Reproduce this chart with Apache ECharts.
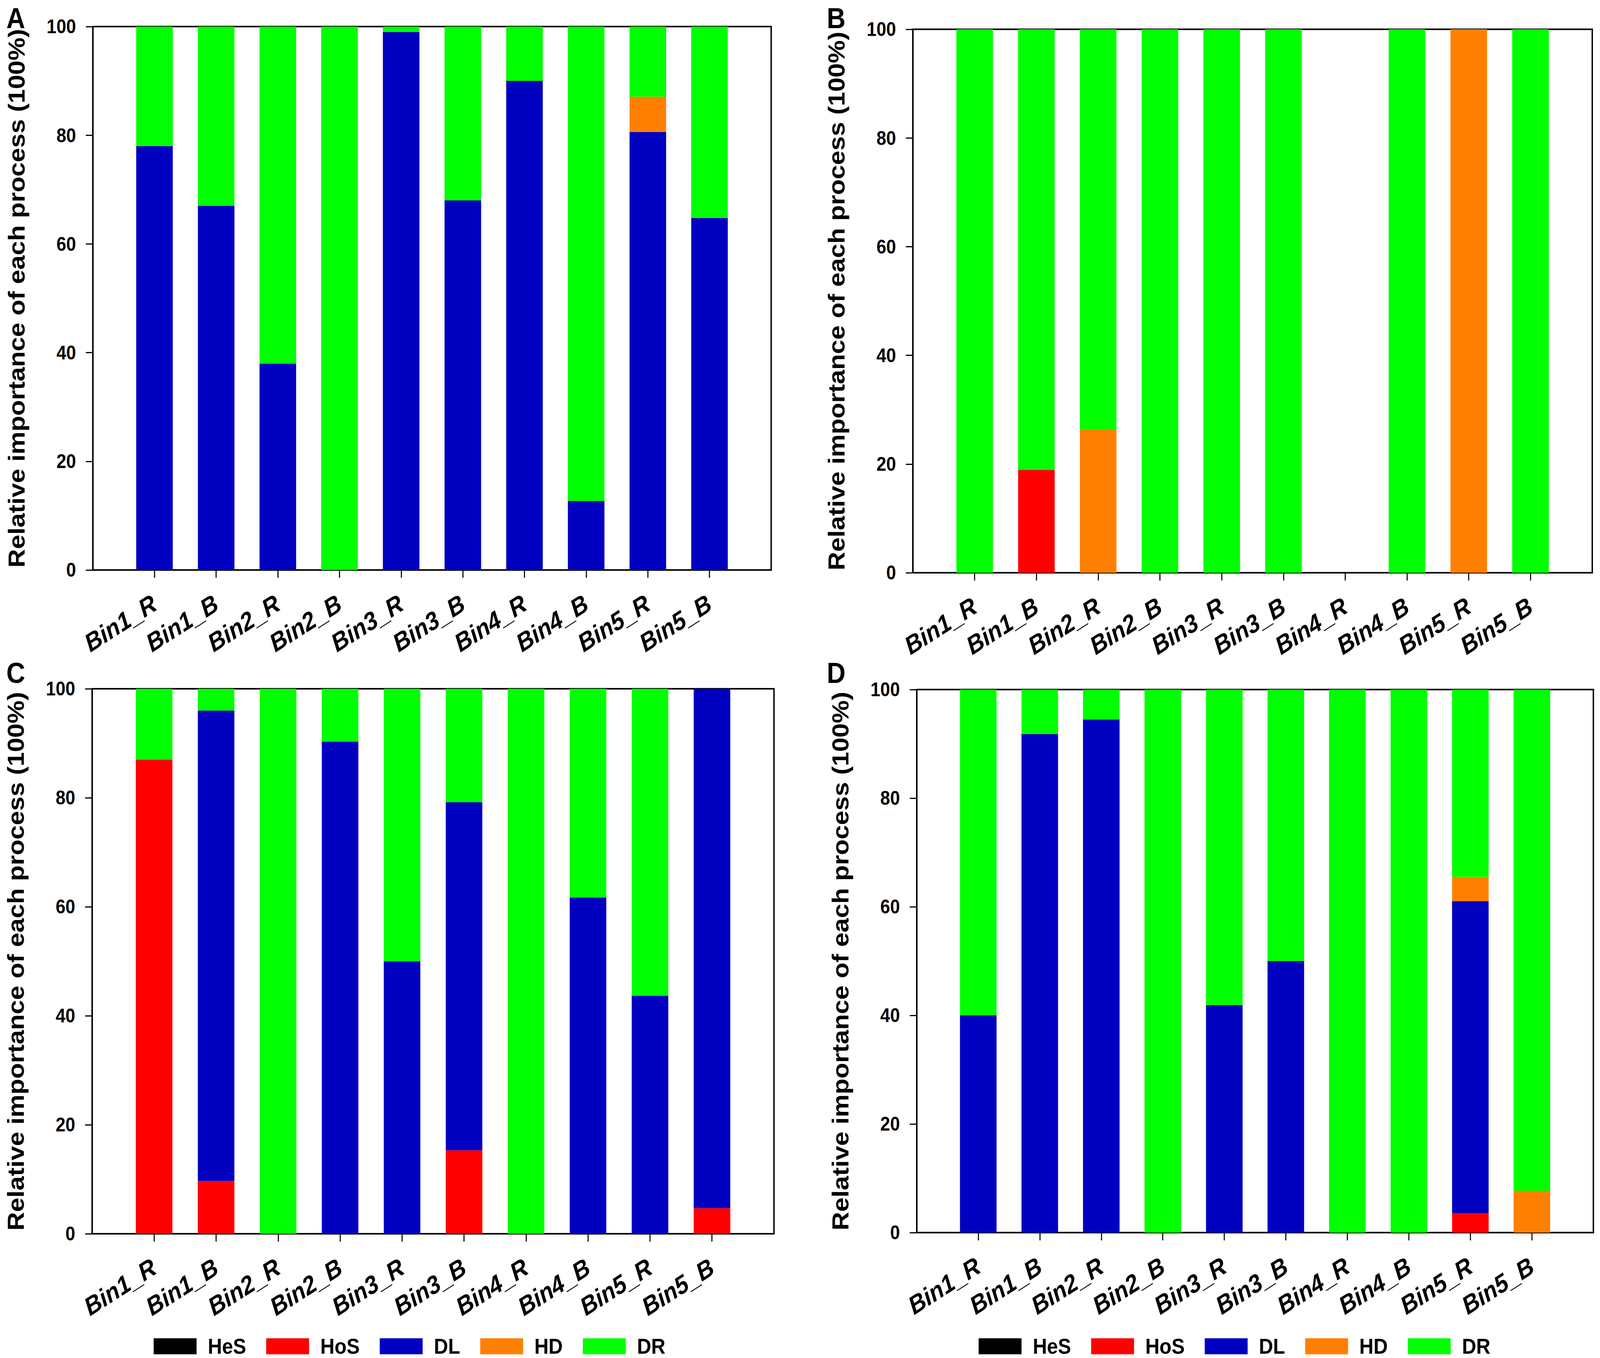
<!DOCTYPE html>
<html><head><meta charset="utf-8">
<script src="https://cdn.jsdelivr.net/npm/echarts@6/dist/echarts.min.js"></script>
<style>html,body{margin:0;padding:0;background:#fff;overflow:hidden}
#c{width:4550px;height:3476px;transform-origin:0 0}</style>
</head><body><div id="c"></div><script>
const categories = ['Bin1_R','Bin1_B','Bin2_R','Bin2_B','Bin3_R','Bin3_B','Bin4_R','Bin4_B','Bin5_R','Bin5_B'];
const processes = ['HeS','HoS','DL','HD','DR'];
const processColors = ['#000000','#ff0000','#0000c0','#ff8000','#00ff00'];
const yTicks = [0,20,40,60,80,100];
const yTitle = 'Relative importance of each process (100%)';
const panelLabels = ['A','B','C','D'];

// Panel A
const A_HeS = [0,0,0,0,0,0,0,0,0,0];
const A_HoS = [0,0,0,0,0,0,0,0,0,0];
const A_DL  = [78,67,38,0,99,68,90,12.7,80.6,64.8];
const A_HD  = [0,0,0,0,0,0,0,0,6.5,0];
const A_DR  = [22,33,62,100,1,32,10,87.3,12.9,35.2];
// Panel B
const B_HeS = [0,0,0,0,0,0,0,0,0,0];
const B_HoS = [0,18.9,0,0,0,0,0,0,0,0];
const B_DL  = [0,0,0,0,0,0,0,0,0,0];
const B_HD  = [0,0,26.4,0,0,0,0,0,100,0];
const B_DR  = [100,81.1,73.6,100,100,100,0,100,0,100];
// Panel C
const C_HeS = [0,0,0,0,0,0,0,0,0,0];
const C_HoS = [87,9.7,0,0,0,15.3,0,0,0,4.7];
const C_DL  = [0,86.3,0,90.3,50,63.9,0,61.7,43.7,95.3];
const C_HD  = [0,0,0,0,0,0,0,0,0,0];
const C_DR  = [13,4,100,9.7,50,20.8,100,38.3,56.3,0];
// Panel D
const D_HeS = [0,0,0,0,0,0,0,0,0,0];
const D_HoS = [0,0,0,0,0,0,0,0,3.6,0];
const D_DL  = [40,91.8,94.5,0,41.9,50,0,0,57.4,0];
const D_HD  = [0,0,0,0,0,0,0,0,4.5,7.7];
const D_DR  = [60,8.2,5.5,100,58.1,50,100,100,34.5,92.3];

const panelData = [
  [A_HeS,A_HoS,A_DL,A_HD,A_DR],
  [B_HeS,B_HoS,B_DL,B_HD,B_DR],
  [C_HeS,C_HoS,C_DL,C_HD,C_DR],
  [D_HeS,D_HoS,D_DL,D_HD,D_DR]
];

// fit the 4550x3476 drawing into whatever viewport the browser really has
const W = 4550, H = 3476;
const el = document.getElementById('c');
const sx = (window.innerWidth || W) / W, sy = (window.innerHeight || H) / H;
if (Math.abs(sx - 1) > 0.001 || Math.abs(sy - 1) > 0.001) {
  el.style.transform = 'scale(' + sx + ',' + sy + ')';
}

const FONT = "'Liberation Sans', Arial, sans-serif";
const grids = [
  {left:264, top:68,   width:1929, height:1391},
  {left:2596,top:75,   width:1932, height:1391},
  {left:262, top:1763, width:1939, height:1395},
  {left:2607,top:1765, width:1934, height:1390}
];
const labelPos = [{left:13,top:4},{left:2346,top:4},{left:13,top:1680},{left:2346,top:1680}];

// padded categories so bars sit at positions 1..10 of a 0..11 axis
const xCats = [' '].concat(categories, ['  ']);

const option = {
  animation:false,
  backgroundColor:'#ffffff',
  title: panelLabels.map((t,i)=>({text:t, left:labelPos[i].left, top:labelPos[i].top,
    textStyle:{fontSize:74, fontWeight:'bold', color:'#000', fontFamily:FONT}})),
  grid: grids.map(g=>Object.assign({show:true, borderColor:'#000', borderWidth:4, backgroundColor:'transparent'}, g)),
  xAxis: grids.map((g,i)=>({
    type:'category', gridIndex:i, data:xCats, boundaryGap:false,
    axisLine:{show:true, lineStyle:{color:'#000', width:4}},
    axisTick:{show:true, length:20, lineStyle:{color:'#000', width:3},
      interval:(idx,val)=> String(val).trim() !== ''},
    axisLabel:{interval:0, rotate:30, margin:80, fontSize:65, fontWeight:'bold', fontStyle:'italic',
      color:'#000', fontFamily:FONT},
    splitLine:{show:false}
  })),
  yAxis: grids.map((g,i)=>({
    type:'value', gridIndex:i, min:yTicks[0], max:yTicks[yTicks.length-1], interval:yTicks[1]-yTicks[0],
    name:yTitle, nameLocation:'middle', nameGap:184,
    nameTextStyle:{fontSize:66, lineHeight:66, fontWeight:'bold', color:'#000', fontFamily:FONT},
    axisLine:{show:true, lineStyle:{color:'#000', width:4}},
    axisTick:{show:true, length:20, lineStyle:{color:'#000', width:3}},
    axisLabel:{margin:48, fontSize:50, fontWeight:'bold', color:'#000', fontFamily:FONT},
    splitLine:{show:false}
  })),
  legend: [437, 2783].map(l=>({
    data:processes, left:l, top:3418, orient:'horizontal', icon:'rect',
    itemWidth:122, itemHeight:41, itemGap:57, selectedMode:false, padding:0,
    textStyle:{fontSize:56, lineHeight:54, fontWeight:'bold', color:'#000', fontFamily:FONT, padding:[0,0,0,27]}
  })),
  series: []
};

panelData.forEach((arrs, pi)=>{
  arrs.forEach((vals, k)=>{
    option.series.push({
      type:'bar', name:processes[k], xAxisIndex:pi, yAxisIndex:pi, stack:'panel'+pi,
      barWidth:104,
      itemStyle:{color:processColors[k]},
      data:[null].concat(vals, [null])
    });
  });
});

const chart = echarts.init(el, null, {renderer:'svg', width:W, height:H});
chart.setOption(option);
</script></body></html>
